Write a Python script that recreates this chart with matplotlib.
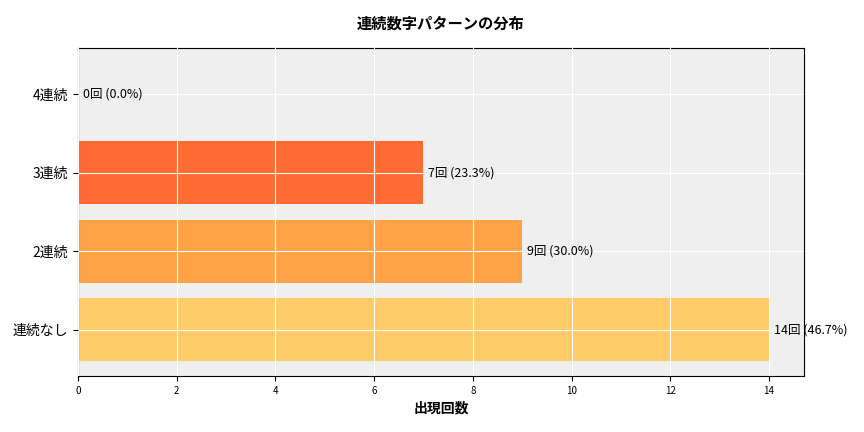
import matplotlib
matplotlib.use("Agg")
import matplotlib.pyplot as plt

plt.rcParams["font.family"] = "Noto Sans CJK JP"

categories = ["連続なし", "2連続", "3連続", "4連続"]
counts = [14, 9, 7, 0]
percents = [46.7, 30.0, 23.3, 0.0]
colors = ["#FFCA68", "#FFA346", "#FF6B33", "#FF3B1F"]

fig = plt.figure(figsize=(8.64, 4.32), dpi=100)
ax = fig.add_axes([78/864, 1-376/432, (804-78)/864, (376-48)/432])
ax.set_facecolor("#efefef")
bars = ax.barh(categories, counts, color=colors, height=0.8, zorder=1)
ax.set_axisbelow(False)
ax.grid(True, color="white", linewidth=0.8, zorder=2)
for i, (c, p) in enumerate(zip(counts, percents)):
    ax.text(c + 0.1, i, f"{c}回 ({p:.1f}%)", va="center", ha="left", fontsize=9, zorder=3)
ax.set_xlim(0, 14.71)
ax.set_xticks(range(0, 15, 2))
ax.tick_params(axis="x", labelsize=7)
ax.tick_params(axis="y", labelsize=10)
ax.set_xlabel("出現回数", fontsize=10, fontweight="bold")
ax.set_title("連続数字パターンの分布", fontsize=11, fontweight="bold", pad=14)
fig.savefig("out.png", dpi=100)
